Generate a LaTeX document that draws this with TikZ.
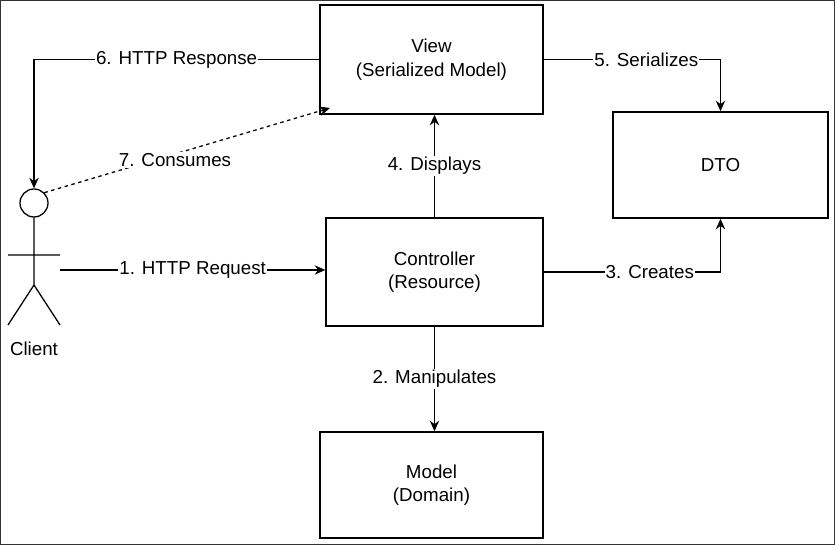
\documentclass[tikz,border=0pt]{standalone}
\usepackage{fontspec}
\setmainfont{Liberation Sans}
\usetikzlibrary{arrows.meta}
\begin{document}
\begin{tikzpicture}[x=0.03cm,y=-0.03cm,
  box/.style={draw,line width=1.3pt,fill=white,align=center,inner sep=0pt},
  arr/.style={line width=1.1pt,-{Stealth[length=9pt,width=8pt]}},
  lbl/.style={fill=white,inner sep=1pt,font=\fontsize{16pt}{19pt}\selectfont},
  every node/.style={font=\fontsize{16pt}{20pt}\selectfont}]
\useasboundingbox (0,0) rectangle (835,545);
\fill[white] (0,0) rectangle (835,545);
\draw[line width=2pt,black!80] (0,0) rectangle (835,545);
\node[box,minimum width=223*0.03cm,minimum height=109*0.03cm] (view) at (431.5,59.5) {View\\(Serialized Model)};
\node[box,minimum width=215*0.03cm,minimum height=106*0.03cm] (dto) at (720.5,165) {DTO};
\node[box,minimum width=217*0.03cm,minimum height=108*0.03cm] (ctrl) at (434.5,272) {Controller\\(Resource)};
\node[box,minimum width=223*0.03cm,minimum height=106*0.03cm] (model) at (431.5,485) {Model\\(Domain)};
% client
\node[draw,circle,line width=1.1pt,minimum size=28*0.03cm,inner sep=0pt] (head) at (34,203) {};
\coordinate (hip) at (34,285);
\draw[line width=1.1pt] (head.south) -- (hip) (8,255) -- (60,255) (hip) -- (8,325) (hip) -- (60,325);
\node (client) at (34,349) {Client};
\coordinate (hand) at (60,270);
\draw[arr] (hand) -- node[lbl]{1. HTTP Request} (ctrl.west |- hand);
\draw[arr] (ctrl.south) -- node[lbl]{2. Manipulates} (model.north -| ctrl.south);
\draw[arr] (ctrl.east) -- node[lbl,pos=0.6]{3. Creates} (ctrl.east -| dto.south) -- (dto.south);
\draw[arr] (ctrl.north) -- node[lbl]{4. Displays} (view.south -| ctrl.north);
\draw[arr] (view.east) -- node[lbl,pos=0.58]{5. Serializes} (view.east -| dto.north) -- (dto.north);
\draw[arr] (view.west) -- node[lbl]{6. HTTP Response} (view.west -| head.north) -- (head.north);
\coordinate (vt) at (330,108);
\draw[arr,dashed] (head.north east) -- (vt);
\node[lbl] (cons) at (175,160) {7. Consumes};
\end{tikzpicture}
\end{document}
